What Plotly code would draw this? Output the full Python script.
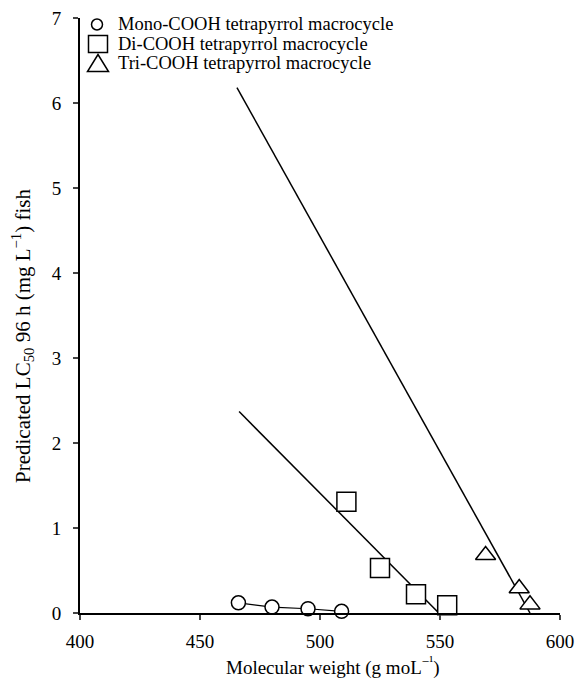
import plotly.graph_objects as go

# Data
mono_x = [466, 480, 495, 509]
mono_y = [0.12, 0.07, 0.05, 0.02]

di_x = [511, 525, 540, 553]
di_y = [1.31, 0.53, 0.22, 0.09]

tri_x = [569, 583, 587.5]
tri_y = [0.68, 0.29, 0.10]

# Regression line end points
di_fit_x = [466.3, 549.5]
di_fit_y = [2.37, 0.0]
tri_fit_x = [465.4, 587.5]
tri_fit_y = [6.18, 0.0]

series_names = ["Mono-COOH tetrapyrrol macrocycle",
                "Di-COOH tetrapyrrol macrocycle",
                "Tri-COOH tetrapyrrol macrocycle"]

x_ticks = [400, 450, 500, 550, 600]
y_ticks = [0, 1, 2, 3, 4, 5, 6, 7]

FONT = "Liberation Serif, Times New Roman, serif"
FS = 19

# plot area geometry (px)
L, R, T, B = 80, 22, 18, 69
W, H = 582, 682
PW, PH = W - L - R, H - T - B


def px2paper_x(px):
    return (px - L) / PW


def px2paper_y(py):
    return (H - B - py) / PH


fig = go.Figure()

line_style = dict(color="black", width=1.5)
fig.add_trace(go.Scatter(x=di_fit_x, y=di_fit_y, mode="lines", line=line_style,
                         showlegend=False, hoverinfo="skip"))
fig.add_trace(go.Scatter(x=tri_fit_x, y=tri_fit_y, mode="lines", line=line_style,
                         showlegend=False, hoverinfo="skip"))
fig.add_trace(go.Scatter(x=mono_x, y=mono_y, mode="lines", line=dict(color="black", width=1.2),
                         showlegend=False, hoverinfo="skip"))

mk_line = dict(color="black", width=1.5)
fig.add_trace(go.Scatter(x=mono_x, y=mono_y, mode="markers", name=series_names[0], showlegend=False,
                         marker=dict(symbol="circle", size=14, color="white", line=mk_line),
                         cliponaxis=False))
fig.add_trace(go.Scatter(x=di_x, y=di_y, mode="markers", name=series_names[1], showlegend=False,
                         marker=dict(symbol="square", size=19, color="white", line=mk_line),
                         cliponaxis=False))
fig.add_trace(go.Scatter(x=tri_x, y=tri_y, mode="markers", name=series_names[2], showlegend=False,
                         marker=dict(symbol="triangle-up", size=17.5, color="white", line=mk_line),
                         cliponaxis=False))

# custom legend (symbols as pixel-sized shapes, labels as text)
row_py = [24.5, 44, 63.5]
sym_px = 97
shapes = []
shapes.append(dict(type="circle", xref="paper", yref="paper",
                   xsizemode="pixel", ysizemode="pixel",
                   xanchor=px2paper_x(sym_px), yanchor=px2paper_y(row_py[0]),
                   x0=-5.5, x1=5.5, y0=-5.5, y1=5.5,
                   line=dict(color="black", width=1.5), fillcolor="white"))
shapes.append(dict(type="rect", xref="paper", yref="paper",
                   xsizemode="pixel", ysizemode="pixel",
                   xanchor=px2paper_x(sym_px + 1), yanchor=px2paper_y(row_py[1]),
                   x0=-9.5, x1=9.5, y0=-8.5, y1=8.5,
                   line=dict(color="black", width=1.5), fillcolor="white"))
shapes.append(dict(type="path", xref="paper", yref="paper",
                   xsizemode="pixel", ysizemode="pixel",
                   xanchor=px2paper_x(sym_px + 1), yanchor=px2paper_y(row_py[2]),
                   path="M -10.5 -8 L 10.5 -8 L 0 9 Z",
                   line=dict(color="black", width=1.5), fillcolor="white"))

annotations = []
for name, py in zip(series_names, row_py):
    annotations.append(dict(text=name, xref="paper", yref="paper",
                            x=px2paper_x(117), y=px2paper_y(py), xanchor="left", yanchor="middle",
                            showarrow=False, font=dict(size=18.5), borderpad=0))

annotations.append(dict(text="Molecular weight (g moL<sup>\u2212\u00b9</sup>)", xref="paper", yref="paper",
                        x=px2paper_x(333), y=px2paper_y(667), xanchor="center", yanchor="middle",
                        showarrow=False, font=dict(size=FS)))
annotations.append(dict(text="Predicated LC<sub>50</sub> 96 h (mg L<sup>\u22121</sup>) fish",
                        xref="paper", yref="paper",
                        x=px2paper_x(22), y=px2paper_y(336), xanchor="center", yanchor="middle",
                        textangle=-90, showarrow=False, font=dict(size=21)))

fig.update_layout(
    width=W, height=H,
    margin=dict(l=L, r=R, t=T, b=B, autoexpand=False),
    paper_bgcolor="white", plot_bgcolor="white",
    font=dict(family=FONT, size=FS, color="black"),
    showlegend=False,
    xaxis=dict(range=[400, 600], tickvals=x_ticks, ticks="outside", ticklen=5,
               tickwidth=1.5, showline=True, linewidth=2, linecolor="black",
               showgrid=False, zeroline=False, mirror=False, ticklabelstandoff=5,
               tickfont=dict(size=FS)),
    yaxis=dict(range=[0, 7], tickvals=y_ticks, ticks="outside", ticklen=5,
               tickwidth=1.5, showline=True, linewidth=2, linecolor="black",
               showgrid=False, zeroline=False, mirror=False, ticklabelstandoff=8,
               tickfont=dict(size=FS)),
    shapes=shapes,
    annotations=annotations,
)

fig.write_html("out.html", config={"displayModeBar": False},
               post_script="document.body.style.margin='0';document.body.style.padding='0';")
